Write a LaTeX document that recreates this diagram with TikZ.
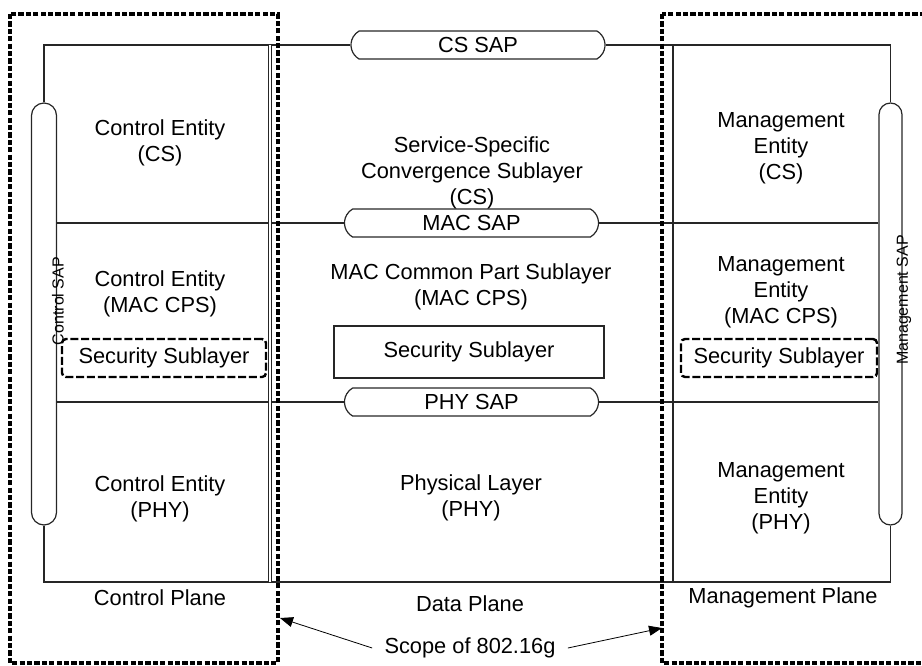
\documentclass[tikz,border=0pt]{standalone}
\usepackage{fontspec}
\setmainfont{Liberation Sans}
\usetikzlibrary{positioning}
\usetikzlibrary{shapes.misc}
\usetikzlibrary{arrows.meta}

\begin{document}
\begin{tikzpicture}[x=0.5pt,y=-0.5pt,
    every node/.style={font=\fontsize{10.9}{13}\selectfont, align=center, inner sep=0pt},
    frame/.style={line width=0.6pt, draw=black!85},
    sap/.style={frame, rounded rectangle, rounded rectangle arc length=120, minimum width=127pt, minimum height=14pt},
    vsap/.style={frame, rounded rectangle, rotate=90, minimum width=211pt, minimum height=12.5pt},
    scopebox/.style={line width=1.6pt, dash pattern=on 2.6pt off 1.1pt},
    secbox/.style={draw, line width=1.2pt, dash pattern=on 4pt off 1.4pt, rounded corners=2pt, minimum height=19pt},
    saplabel/.style={font=\fontsize{8}{9}\selectfont, rotate=90}]

    \useasboundingbox (0,0) rectangle (922,665);
    \clip (0,0) rectangle (922,665);

    % SAPs
    \node [sap] (cssap) at (478,45) {CS SAP};
    \node [sap] (macsap) at (471.5,223) {MAC SAP};
    \node [sap] (physap) at (471.5,402) {PHY SAP};
    \node [vsap] (ctrlsap) at (44,314) {};
    \node [vsap, minimum height=11.5pt] (mgmtsap) at (890.5,314) {};
    \node [saplabel] (ctrlsaplabel) at (58,301) {Control SAP};
    \node [saplabel] (mgmtsaplabel) at (904,300) {Management SAP};

    % Frame of the three planes
    % (the vertical SAPs are turned, so their east is at the top)
    \coordinate (bot) at (0,582);
    \draw [frame] (ctrlsap.east) -- (ctrlsap.east |- cssap.west) -- (cssap.west);
    \draw [frame] (cssap.east) -| (mgmtsap.east);
    \draw [frame] (ctrlsap.west) -- (ctrlsap.west |- bot) -- (mgmtsap.west |- bot) -- (mgmtsap.west);
    \draw [frame] (ctrlsap.south |- macsap) -- (macsap.west);
    \draw [frame] (macsap.east) -- (mgmtsap.north |- macsap);
    \draw [frame] (ctrlsap.south |- physap) -- (physap.west);
    \draw [frame] (physap.east) -- (mgmtsap.north |- physap);
    \draw [frame, double, double distance=1pt] (270,45) -- (270,582);
    \draw [frame] (673,45) -- (673,582);

    % Control plane
    \node (ctrlcs) at (160,143) {Control Entity\\(CS)};
    \node (ctrlmac) at (160,294) {Control Entity\\(MAC CPS)};
    \node [secbox, minimum width=102pt] (ctrlsec) at (164,358) {Security Sublayer};
    \node (ctrlphy) at (160,499) {Control Entity\\(PHY)};
    \node (ctrlplane) at (160,598) {Control Plane};

    % Data plane
    \node (sscs) at (472,173) {Service-Specific\\Convergence Sublayer\\(CS)};
    \node (maccps) at (471,287) {MAC Common Part Sublayer\\(MAC CPS)};
    \node [frame, draw, minimum width=135pt, minimum height=26pt] (datasec) at (469,352) {Security Sublayer};
    \node (phy) at (471,498) {Physical Layer\\(PHY)};
    \node (dataplane) at (470,604) {Data Plane};

    % Management plane
    \node (mgmtcs) at (781,148) {Management\\Entity\\(CS)};
    \node (mgmtmac) at (781,292) {Management\\Entity\\(MAC CPS)};
    \node [secbox, minimum width=98pt] (mgmtsec) at (779,358) {Security Sublayer};
    \node (mgmtphy) at (781,498) {Management\\Entity\\(PHY)};
    \node (mgmtplane) at (783,598) {Management Plane};

    % Scope of the amendment
    \draw [scopebox] (10,14) rectangle (278,663);
    \draw [scopebox] (662,14) rectangle (940,663);
    \node [inner sep=6pt] (scope) at (470,648) {Scope of 802.16g};
    \coordinate (lscope) at (280,618);
    \coordinate (rscope) at (662,628);
    \draw [-{Triangle[length=6.5pt,width=5pt]}, line width=0.4pt] (scope.west) -- (lscope);
    \draw [-{Triangle[length=6.5pt,width=5pt]}, line width=0.4pt] (scope.east) -- (rscope);
\end{tikzpicture}
\end{document}
